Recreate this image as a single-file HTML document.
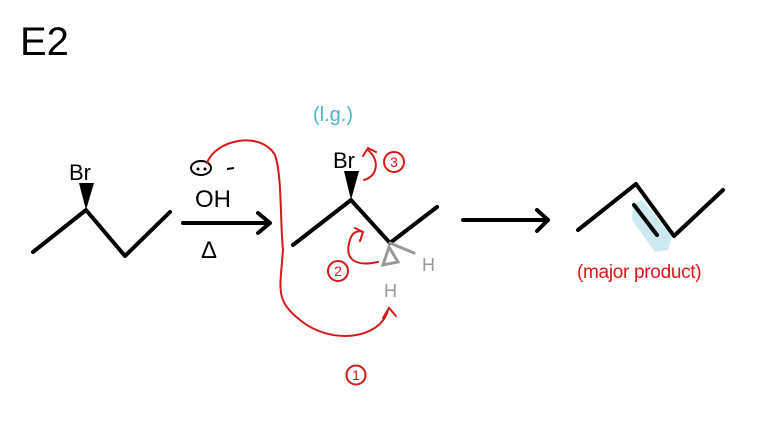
<!DOCTYPE html>
<html><head><meta charset="utf-8"><style>
body{margin:0;background:#fff;width:784px;height:448px;overflow:hidden}
svg{display:block}
text{font-family:"Liberation Sans",sans-serif}
</style></head><body>
<svg width="784" height="448" viewBox="0 0 784 448">
<g fill="none" stroke="#000" stroke-width="4" stroke-linecap="round" stroke-linejoin="round">
<polyline points="33,252 86,210 125,256 170,212"/>
<path d="M183,223 H270 M258,213 L270,223 L258,233"/>
<polyline points="293,245 351,200 390,243 437,207"/>
<path d="M463,220 H548 M537,210 L548,220 L537,231"/>
</g>
<path d="M633,204 L642,200 L672,236 L668,250 L655,252 L632,220 Z" fill="#cdeaf0"/>
<g fill="none" stroke="#000" stroke-width="4" stroke-linecap="round" stroke-linejoin="round">
<polyline points="578,230 636,184 674,236 723,190"/>
<line x1="634" y1="205" x2="657" y2="235"/>
</g>
<polygon points="86,210 79,183 94,183" fill="#000"/>
<polygon points="351,200 344,171 359,171" fill="#000"/>
<text x="20" y="55" font-size="40">E2</text>
<text x="69" y="180" font-size="22">Br</text>
<text x="333" y="168" font-size="22">Br</text>
<text x="195" y="207" font-size="24">OH</text>
<ellipse cx="201" cy="168" rx="10" ry="7" fill="none" stroke="#000" stroke-width="2"/>
<circle cx="198" cy="169" r="1.5"/><circle cx="205" cy="169" r="1.5"/>
<line x1="227" y1="169" x2="234" y2="168" stroke="#000" stroke-width="2"/>
<text x="201" y="258" font-size="24">Δ</text>
<text x="313" y="121" font-size="20" fill="#4fb3c8">(l.g.)</text>
<g stroke="#999" stroke-width="3" fill="none" stroke-linecap="round">
<line x1="390" y1="243" x2="414" y2="253"/>
<path d="M389,247 L383,265 L398,262 Z"/>
</g>
<text x="422" y="271" font-size="18" fill="#999">H</text>
<text x="384" y="297" font-size="18" fill="#999">H</text>
<g fill="none" stroke="#d81818" stroke-width="2" stroke-linecap="round">
<path d="M207,163 C215,140 260,130 275,155 C282,175 280,220 283,250 C280,290 275,300 300,320 C330,345 380,340 388,310 M383,318 L389,308 L396,316"/>
<path d="M378,262 C350,268 345,255 350,240 C352,232 358,230 363,232 M355,228 L363,232 L360,241"/>
<path d="M364,180 C378,176 380,160 368,150 M363,156 L368,148 L376,152"/>
<circle cx="356" cy="375" r="9.5"/><circle cx="338" cy="271" r="10"/><circle cx="394" cy="162" r="10"/>
</g>
<g fill="#d81818" font-size="14" text-anchor="middle">
<text x="356" y="380">1</text>
<text x="338" y="276">2</text>
<text x="394" y="167">3</text>
</g>
<text x="577" y="278" font-size="19" fill="#d81818" letter-spacing="-0.3">(major product)</text>
</svg>
</body></html>
